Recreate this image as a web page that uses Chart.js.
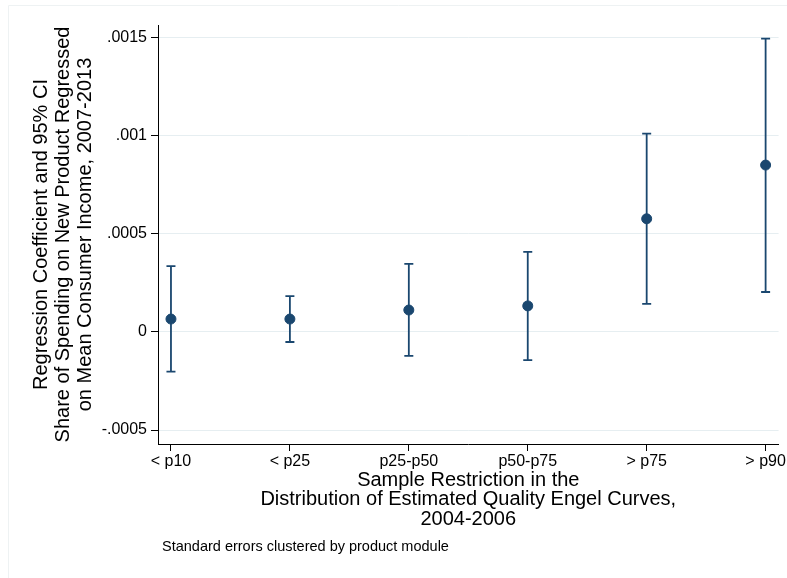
<!DOCTYPE html>
<html>
<head>
<meta charset="utf-8">
<script src="https://cdn.jsdelivr.net/npm/chart.js@4"></script>
<style>
  html, body { margin: 0; padding: 0; background: #fff; }
  #wrap { width: 787px; height: 578px; }
</style>
</head>
<body>
<div id="wrap"><canvas id="c" width="787" height="578"></canvas></div>
<script>
// categories and estimates
const groups = ["< p10", "< p25", "p25-p50", "p50-p75", "> p75", "> p90"];
const coef  = [0.000066, 0.000066, 0.000112, 0.000133, 0.000577, 0.000851];
const ciLow = [-0.000202, -0.000051, -0.000122, -0.000143, 0.000143, 0.000204];
const ciHigh = [0.000336, 0.000183, 0.000347, 0.000408, 0.001011, 0.001496];
const yTicks = [-0.0005, 0, 0.0005, 0.001, 0.0015];

const navy = "#1a476f";
const font = "'Liberation Sans', Arial, sans-serif";

function stataNum(v) {
    if (Math.abs(v) < 1e-12) return "0";
    let s = String(+v.toPrecision(6));
    return s.replace("0.", ".");
}

// draws the CI whiskers from the scales
const errorBars = {
    id: "errorBars",
    beforeDatasetsDraw(chart) {
        const { ctx, scales: { x, y } } = chart;
        ctx.save();
        ctx.strokeStyle = navy;
        ctx.lineWidth = 1.8;
        for (let i = 0; i < groups.length; i++) {
            const px = x.getPixelForValue(i);
            const lo = y.getPixelForValue(ciLow[i]);
            const hi = y.getPixelForValue(ciHigh[i]);
            ctx.beginPath();
            ctx.moveTo(px, lo);
            ctx.lineTo(px, hi);
            ctx.moveTo(px - 4.5, lo);
            ctx.lineTo(px + 4.5, lo);
            ctx.moveTo(px - 4.5, hi);
            ctx.lineTo(px + 4.5, hi);
            ctx.stroke();
        }
        ctx.restore();
    }
};

// faint outer frame and the note
const frameAndNote = {
    id: "frameAndNote",
    afterDraw(chart) {
        const ctx = chart.ctx;
        ctx.save();
        ctx.strokeStyle = "#eef2f3";
        ctx.lineWidth = 1;
        ctx.beginPath();
        ctx.moveTo(8.5, 600);
        ctx.lineTo(8.5, 5.5);
        ctx.lineTo(800, 5.5);
        ctx.stroke();
        ctx.fillStyle = "#000";
        ctx.font = "14.5px " + font;
        ctx.textBaseline = "middle";
        ctx.textAlign = "left";
        ctx.fillText("Standard errors clustered by product module", 162, 547);
        ctx.restore();
    }
};

new Chart(document.getElementById("c"), {
    type: "scatter",
    data: {
        datasets: [{
            data: coef.map((v, i) => ({ x: i, y: v })),
            backgroundColor: navy,
            borderColor: navy,
            pointRadius: 5,
            pointHoverRadius: 5,
            showLine: false
        }]
    },
    options: {
        responsive: false,
        animation: false,
        layout: { padding: { top: 25, right: 7, left: 0, bottom: 0 } },
        plugins: { legend: { display: false }, tooltip: { enabled: false } },
        scales: {
            x: {
                type: "linear",
                min: -0.109,
                max: 5.109,
                afterFit(s) { s.height = 134; },
                afterBuildTicks(s) { s.ticks = groups.map((g, i) => ({ value: i })); },
                grid: { drawOnChartArea: false, tickLength: 7, tickColor: "#000", tickWidth: 1 },
                border: { color: "#000", width: 1 },
                ticks: {
                    padding: 1,
                    color: "#000",
                    font: { family: font, size: 16 },
                    maxRotation: 0,
                    autoSkip: false,
                    callback: v => groups[v]
                },
                title: {
                    display: true,
                    text: ["Sample Restriction in the", "Distribution of Estimated Quality Engel Curves,", "2004-2006"],
                    color: "#000",
                    font: { family: font, size: 20, lineHeight: 0.975 },
                    padding: { top: 0, bottom: 49 }
                }
            },
            y: {
                min: -0.000571,
                max: 0.001565,
                afterFit(s) { s.width = 158; },
                afterBuildTicks(s) { s.ticks = yTicks.map(v => ({ value: v })); },
                grid: { color: "#e6eef1", lineWidth: 1, tickLength: 7, tickColor: "#000", drawTicks: true },
                border: { color: "#000", width: 1 },
                ticks: {
                    padding: 4,
                    color: "#000",
                    font: { family: font, size: 16 },
                    callback: v => stataNum(v)
                },
                title: {
                    display: true,
                    text: ["Regression Coefficient and 95% CI", "Share of Spending on New Product Regressed", "on Mean Consumer Income, 2007-2013"],
                    color: "#000",
                    font: { family: font, size: 20, lineHeight: 1.085 },
                    padding: { top: 31, bottom: 0 }
                }
            }
        }
    },
    plugins: [errorBars, frameAndNote]
});
</script>
</body>
</html>
